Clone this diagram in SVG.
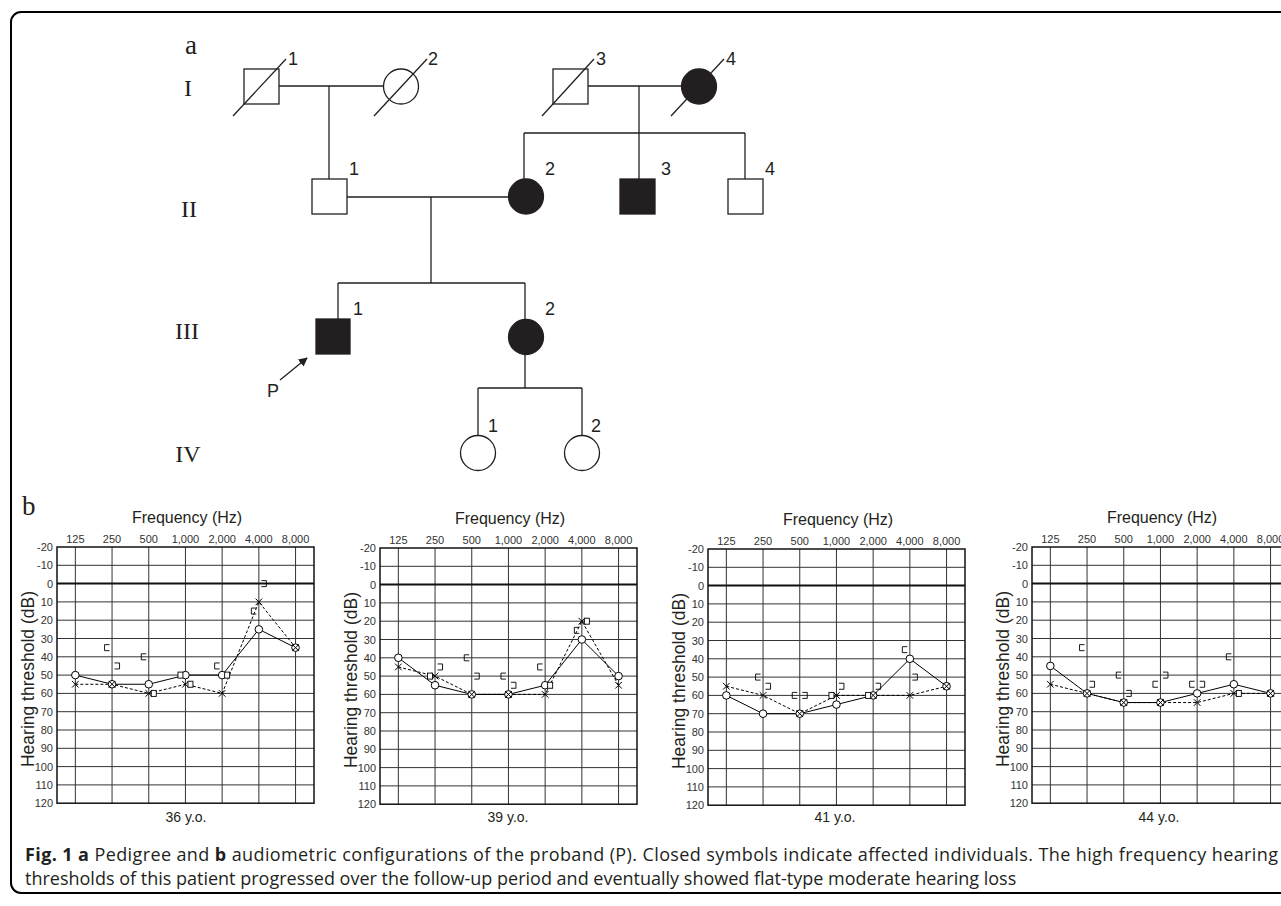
<svg xmlns="http://www.w3.org/2000/svg" width="1281" height="906" viewBox="0 0 1281 906">
<style>
.ln{stroke:#231f20;stroke-width:1.3;fill:none}
.sym{stroke:#231f20;stroke-width:1.3;fill:#fff}
.aff{fill:#231f20;stroke:#231f20;stroke-width:1.3}
.num{font-family:"Liberation Sans",Arial,sans-serif;font-size:18px;fill:#231f20}
.gen{font-family:"Liberation Serif","Times New Roman",serif;font-size:24px;fill:#231f20}
.panel{font-family:"Liberation Serif","Times New Roman",serif;font-size:27px;fill:#231f20}
.tick{font-family:"Liberation Sans",Arial,sans-serif;font-size:11px;fill:#333}
.ttl{font-family:"Liberation Sans",Arial,sans-serif;font-size:16px;fill:#231f20}
.ytl{font-family:"Liberation Sans",Arial,sans-serif;font-size:17.5px;fill:#231f20}
.age{font-family:"Liberation Sans",Arial,sans-serif;font-size:14px;fill:#231f20}
.grid{stroke:#333;stroke-width:1;fill:none}
.frame{stroke:#111;stroke-width:1.5;fill:none}
.rline{stroke:#000;stroke-width:1;fill:none}
.lline{stroke:#000;stroke-width:1;fill:none;stroke-dasharray:3 2}
.cap{font-family:"Open Sans","Liberation Sans",sans-serif;font-size:18px;fill:#231f20}
</style>
<defs>
<marker id="ah" viewBox="0 0 10 10" refX="9" refY="5" markerWidth="9" markerHeight="9" orient="auto" markerUnits="userSpaceOnUse"><path d="M0,0 L10,5 L0,10 z" fill="#231f20"/></marker>
<circle id="o" r="3.8" fill="#fff" stroke="#000" stroke-width="1"/>
<path id="x" d="M-3.3,-3.3L3.3,3.3M-3.3,3.3L3.3,-3.3" stroke="#000" stroke-width="1" fill="none"/>
<path id="bl" d="M2.5,-3H-2.5V3H2.5" stroke="#000" stroke-width="0.9" fill="none"/>
<path id="br" d="M-2.5,-3H2.5V3H-2.5" stroke="#000" stroke-width="0.9" fill="none"/>
<rect id="bs" x="-2.5" y="-3" width="5" height="6" stroke="#000" stroke-width="0.9" fill="#fff"/>
<g id="chart">
<path class="grid" d="M18.35,0V256.2M55.05,0V256.2M91.75,0V256.2M128.45,0V256.2M165.15,0V256.2M201.85,0V256.2M238.55,0V256.2M0,18.3H257M0,54.9H257M0,73.2H257M0,91.5H257M0,109.8H257M0,128.1H257M0,146.4H257M0,164.7H257M0,183H257M0,201.3H257M0,219.6H257M0,237.9H257"/>
<path d="M0,36.6H257" stroke="#111" stroke-width="2"/>
<rect class="frame" x="0" y="0" width="257" height="256.2"/>
<g class="tick" text-anchor="end">
<text x="-4" y="4">-20</text><text x="-4" y="22.3">-10</text><text x="-4" y="40.6">0</text><text x="-4" y="58.9">10</text><text x="-4" y="77.2">20</text><text x="-4" y="95.5">30</text><text x="-4" y="113.8">40</text><text x="-4" y="132.1">50</text><text x="-4" y="150.4">60</text><text x="-4" y="168.7">70</text><text x="-4" y="187">80</text><text x="-4" y="205.3">90</text><text x="-4" y="223.6">100</text><text x="-4" y="241.9">110</text><text x="-4" y="260.2">120</text>
</g>
<g class="tick" text-anchor="middle">
<text x="18.35" y="-4.5">125</text><text x="55.05" y="-4.5">250</text><text x="91.75" y="-4.5">500</text><text x="128.45" y="-4.5">1,000</text><text x="165.15" y="-4.5">2,000</text><text x="201.85" y="-4.5">4,000</text><text x="238.55" y="-4.5">8,000</text>
</g>
<text class="ttl" x="130" y="-24" text-anchor="middle">Frequency (Hz)</text>
<text class="ytl" transform="translate(-23.5,132) rotate(-90)" text-anchor="middle">Hearing threshold (dB)</text>
</g>
</defs>
<rect x="0" y="0" width="1281" height="906" fill="#fff"/>
<rect x="11" y="12" width="1300" height="881" rx="10" fill="none" stroke="#000" stroke-width="2"/>

<text class="panel" x="185" y="54">a</text>
<g class="gen" text-anchor="middle">
<text x="188" y="96">I</text>
<text x="189" y="217">II</text>
<text x="187" y="339">III</text>
<text x="188" y="462">IV</text>
</g>

<g id="connectors" class="ln">
<path d="M279,86H383.5M329,86V179"/>
<path d="M588,86H681.5M639,86V179M524,133H745M524,133V179M745,133V179"/>
<path d="M347,197H508.5M431,197V283M338,283H525M338,283V319M525,283V319.5"/>
<path d="M525,354.5V388M478,388H582M478,388V435.5M582,388V435.5"/>
<path d="M280,380L307,358" marker-end="url(#ah)"/>
</g>

<g id="I-1"><rect class="sym" x="244" y="69" width="35" height="35"/><path class="ln" d="M233,116L286,59"/><text class="num" x="288" y="65">1</text></g>
<g id="I-2"><circle class="sym" cx="401" cy="86.5" r="17.5"/><path class="ln" d="M374,116L427,59"/><text class="num" x="428" y="65">2</text></g>
<g id="I-3"><rect class="sym" x="553" y="69" width="35" height="35"/><path class="ln" d="M542,116L594,59"/><text class="num" x="596" y="65">3</text></g>
<g id="I-4"><circle class="aff" cx="699" cy="86.5" r="17.5"/><path class="ln" d="M671,116L724,59"/><text class="num" x="726" y="65">4</text></g>
<g id="II-1"><rect class="sym" x="312" y="179" width="35" height="35"/><text class="num" x="349" y="175">1</text></g>
<g id="II-2"><circle class="aff" cx="526" cy="196.5" r="17.5"/><text class="num" x="545" y="175">2</text></g>
<g id="II-3"><rect class="aff" x="620" y="179" width="35" height="35"/><text class="num" x="661" y="175">3</text></g>
<g id="II-4"><rect class="sym" x="728" y="179" width="35" height="35"/><text class="num" x="765" y="175">4</text></g>
<g id="III-1"><rect class="aff" x="316" y="319" width="34" height="35"/><text class="num" x="353" y="315">1</text></g>
<g id="III-2"><circle class="aff" cx="526" cy="337" r="17.5"/><text class="num" x="545" y="315">2</text></g>
<g id="IV-1"><circle class="sym" cx="478" cy="453" r="17.5"/><text class="num" x="488" y="432">1</text></g>
<g id="IV-2"><circle class="sym" cx="582" cy="453" r="17.5"/><text class="num" x="591" y="432">2</text></g>
<text class="num" x="267" y="397">P</text>

<text class="panel" x="22" y="515">b</text>

<g id="audiogram-36" transform="translate(57,547)">
<use href="#chart"/>
<polyline class="rline" points="18.35,128.1 55.05,137.25 91.75,137.25 128.45,128.1 165.15,128.1 201.85,82.35 238.55,100.65"/>
<polyline class="lline" points="18.35,137.25 55.05,137.25 91.75,146.4 128.45,137.25 165.15,146.4 201.85,54.9 238.55,100.65"/>
<use href="#o" x="18.35" y="128.1"/><use href="#o" x="55.05" y="137.25"/><use href="#o" x="91.75" y="137.25"/><use href="#o" x="128.45" y="128.1"/><use href="#o" x="165.15" y="128.1"/><use href="#o" x="201.85" y="82.35"/><use href="#o" x="238.55" y="100.65"/>
<use href="#x" x="18.35" y="137.25"/><use href="#x" x="55.05" y="137.25"/><use href="#x" x="91.75" y="146.4"/><use href="#x" x="128.45" y="137.25"/><use href="#x" x="165.15" y="146.4"/><use href="#x" x="201.85" y="54.9"/><use href="#x" x="238.55" y="100.65"/>
<use href="#bl" x="50.05" y="100.65"/><use href="#br" x="60.05" y="118.95"/>
<use href="#bl" x="86.75" y="109.8"/><use href="#bs" x="96.75" y="146.4"/>
<use href="#bs" x="123.45" y="128.1"/><use href="#bs" x="133.45" y="137.25"/>
<use href="#bl" x="160.15" y="118.95"/><use href="#bs" x="170.15" y="128.1"/>
<use href="#bl" x="196.85" y="64.05"/><use href="#br" x="206.85" y="36.6"/>
</g>
<text class="age" x="186" y="822" text-anchor="middle">36 y.o.</text>

<g id="audiogram-39" transform="translate(380,548)">
<use href="#chart"/>
<polyline class="rline" points="18.35,109.8 55.05,137.25 91.75,146.4 128.45,146.4 165.15,137.25 201.85,91.5 238.55,128.1"/>
<polyline class="lline" points="18.35,118.95 55.05,128.1 91.75,146.4 128.45,146.4 165.15,146.4 201.85,73.2 238.55,137.25"/>
<use href="#o" x="18.35" y="109.8"/><use href="#o" x="55.05" y="137.25"/><use href="#o" x="91.75" y="146.4"/><use href="#o" x="128.45" y="146.4"/><use href="#o" x="165.15" y="137.25"/><use href="#o" x="201.85" y="91.5"/><use href="#o" x="238.55" y="128.1"/>
<use href="#x" x="18.35" y="118.95"/><use href="#x" x="55.05" y="128.1"/><use href="#x" x="91.75" y="146.4"/><use href="#x" x="128.45" y="146.4"/><use href="#x" x="165.15" y="146.4"/><use href="#x" x="201.85" y="73.2"/><use href="#x" x="238.55" y="137.25"/>
<use href="#bs" x="50.05" y="128.1"/><use href="#br" x="60.05" y="118.95"/>
<use href="#bl" x="86.75" y="109.8"/><use href="#br" x="96.75" y="128.1"/>
<use href="#bl" x="123.45" y="128.1"/><use href="#br" x="133.45" y="137.25"/>
<use href="#bl" x="160.15" y="118.95"/><use href="#bs" x="170.15" y="137.25"/>
<use href="#bl" x="196.85" y="82.35"/><use href="#bs" x="206.85" y="73.2"/>
</g>
<text class="age" x="508" y="822" text-anchor="middle">39 y.o.</text>

<g id="audiogram-41" transform="translate(708,549)">
<use href="#chart"/>
<polyline class="rline" points="18.35,146.4 55.05,164.7 91.75,164.7 128.45,155.55 165.15,146.4 201.85,109.8 238.55,137.25"/>
<polyline class="lline" points="18.35,137.25 55.05,146.4 91.75,164.7 128.45,146.4 165.15,146.4 201.85,146.4 238.55,137.25"/>
<use href="#o" x="18.35" y="146.4"/><use href="#o" x="55.05" y="164.7"/><use href="#o" x="91.75" y="164.7"/><use href="#o" x="128.45" y="155.55"/><use href="#o" x="165.15" y="146.4"/><use href="#o" x="201.85" y="109.8"/><use href="#o" x="238.55" y="137.25"/>
<use href="#x" x="18.35" y="137.25"/><use href="#x" x="55.05" y="146.4"/><use href="#x" x="91.75" y="164.7"/><use href="#x" x="128.45" y="146.4"/><use href="#x" x="165.15" y="146.4"/><use href="#x" x="201.85" y="146.4"/><use href="#x" x="238.55" y="137.25"/>
<use href="#bl" x="50.05" y="128.1"/><use href="#br" x="60.05" y="137.25"/>
<use href="#bl" x="86.75" y="146.4"/><use href="#br" x="96.75" y="146.4"/>
<use href="#bs" x="123.45" y="146.4"/><use href="#br" x="133.45" y="137.25"/>
<use href="#bs" x="160.15" y="146.4"/><use href="#br" x="170.15" y="137.25"/>
<use href="#bl" x="196.85" y="100.65"/><use href="#br" x="206.85" y="128.1"/>
</g>
<text class="age" x="835" y="822" text-anchor="middle">41 y.o.</text>

<g id="audiogram-44" transform="translate(1032,547)">
<use href="#chart"/>
<polyline class="rline" points="18.35,118.95 55.05,146.4 91.75,155.55 128.45,155.55 165.15,146.4 201.85,137.25 238.55,146.4"/>
<polyline class="lline" points="18.35,137.25 55.05,146.4 91.75,155.55 128.45,155.55 165.15,155.55 201.85,146.4 238.55,146.4"/>
<use href="#o" x="18.35" y="118.95"/><use href="#o" x="55.05" y="146.4"/><use href="#o" x="91.75" y="155.55"/><use href="#o" x="128.45" y="155.55"/><use href="#o" x="165.15" y="146.4"/><use href="#o" x="201.85" y="137.25"/><use href="#o" x="238.55" y="146.4"/>
<use href="#x" x="18.35" y="137.25"/><use href="#x" x="55.05" y="146.4"/><use href="#x" x="91.75" y="155.55"/><use href="#x" x="128.45" y="155.55"/><use href="#x" x="165.15" y="155.55"/><use href="#x" x="201.85" y="146.4"/><use href="#x" x="238.55" y="146.4"/>
<use href="#bl" x="50.05" y="100.65"/><use href="#br" x="60.05" y="137.25"/>
<use href="#bl" x="86.75" y="128.1"/><use href="#br" x="96.75" y="146.4"/>
<use href="#bl" x="123.45" y="137.25"/><use href="#br" x="133.45" y="128.1"/>
<use href="#bl" x="160.15" y="137.25"/><use href="#br" x="170.15" y="137.25"/>
<use href="#bl" x="196.85" y="109.8"/><use href="#bs" x="206.85" y="146.4"/>
</g>
<text class="age" x="1159" y="822" text-anchor="middle">44 y.o.</text>

<g id="caption" class="cap">
<text x="25" y="861" textLength="1253" lengthAdjust="spacing"><tspan font-weight="bold">Fig. 1</tspan> <tspan font-weight="bold">a</tspan> Pedigree and <tspan font-weight="bold">b</tspan> audiometric configurations of the proband (P). Closed symbols indicate affected individuals. The high frequency hearing</text>
<text x="25" y="885">thresholds of this patient progressed over the follow-up period and eventually showed flat-type moderate hearing loss</text>
</g>
</svg>
